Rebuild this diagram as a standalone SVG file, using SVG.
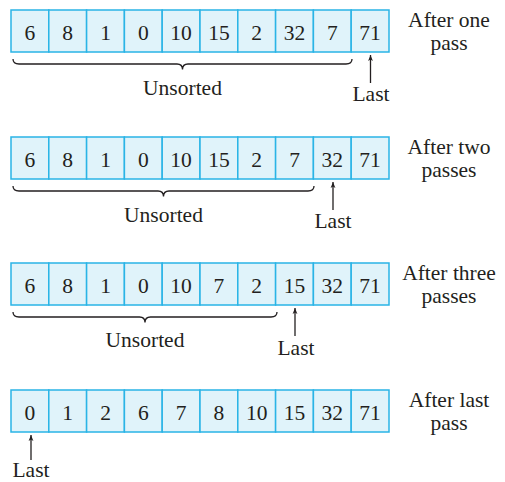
<svg xmlns="http://www.w3.org/2000/svg" width="505" height="482" viewBox="0 0 505 482">
<style>
.cell{fill:#e0f3fa;stroke:#2ab4e6;stroke-width:1.5}
.num{font-family:"Liberation Serif","Times New Roman","DejaVu Serif",serif;font-size:21.5px;fill:#231f20;text-anchor:middle}
.lbl{font-family:"Liberation Serif","Times New Roman","DejaVu Serif",serif;font-size:21.5px;fill:#231f20;text-anchor:middle}
.brace{fill:none;stroke:#231f20;stroke-width:1.3}
.arr{stroke:#231f20;stroke-width:1.3;marker-end:url(#ah)}
</style>
<defs>
<marker id="ah" viewBox="0 0 10 10" refX="10" refY="5" markerWidth="8" markerHeight="6" markerUnits="userSpaceOnUse" orient="auto">
<path d="M0,1 L10,5 L0,9 L2.5,5 Z" fill="#231f20"/>
</marker>
</defs>
<g id="pass1">
<rect class="cell" x="11" y="10" width="37.8" height="42"/><rect class="cell" x="48.8" y="10" width="37.8" height="42"/><rect class="cell" x="86.6" y="10" width="37.8" height="42"/><rect class="cell" x="124.4" y="10" width="37.8" height="42"/><rect class="cell" x="162.2" y="10" width="37.8" height="42"/><rect class="cell" x="200" y="10" width="37.8" height="42"/><rect class="cell" x="237.8" y="10" width="37.8" height="42"/><rect class="cell" x="275.6" y="10" width="37.8" height="42"/><rect class="cell" x="313.4" y="10" width="37.8" height="42"/><rect class="cell" x="351.2" y="10" width="37.8" height="42"/>
<text class="num" x="29.9" y="39.5">6</text><text class="num" x="67.7" y="39.5">8</text><text class="num" x="105.5" y="39.5">1</text><text class="num" x="143.3" y="39.5">0</text><text class="num" x="181.1" y="39.5">10</text><text class="num" x="218.9" y="39.5">15</text><text class="num" x="256.7" y="39.5">2</text><text class="num" x="294.5" y="39.5">32</text><text class="num" x="332.3" y="39.5">7</text><text class="num" x="370.1" y="39.5">71</text>
<text class="lbl" x="449" y="27">After one</text><text class="lbl" x="449" y="50">pass</text>
<text class="lbl" x="182.5" y="95">Unsorted</text>
<text class="lbl" x="371" y="101">Last</text>
</g>
<g id="pass2">
<rect class="cell" x="11" y="137" width="37.8" height="42"/><rect class="cell" x="48.8" y="137" width="37.8" height="42"/><rect class="cell" x="86.6" y="137" width="37.8" height="42"/><rect class="cell" x="124.4" y="137" width="37.8" height="42"/><rect class="cell" x="162.2" y="137" width="37.8" height="42"/><rect class="cell" x="200" y="137" width="37.8" height="42"/><rect class="cell" x="237.8" y="137" width="37.8" height="42"/><rect class="cell" x="275.6" y="137" width="37.8" height="42"/><rect class="cell" x="313.4" y="137" width="37.8" height="42"/><rect class="cell" x="351.2" y="137" width="37.8" height="42"/>
<text class="num" x="29.9" y="166.5">6</text><text class="num" x="67.7" y="166.5">8</text><text class="num" x="105.5" y="166.5">1</text><text class="num" x="143.3" y="166.5">0</text><text class="num" x="181.1" y="166.5">10</text><text class="num" x="218.9" y="166.5">15</text><text class="num" x="256.7" y="166.5">2</text><text class="num" x="294.5" y="166.5">7</text><text class="num" x="332.3" y="166.5">32</text><text class="num" x="370.1" y="166.5">71</text>
<text class="lbl" x="449" y="154">After two</text><text class="lbl" x="449" y="177">passes</text>
<text class="lbl" x="163.5" y="222">Unsorted</text>
<text class="lbl" x="333" y="228">Last</text>
</g>
<g id="pass3">
<rect class="cell" x="11" y="263" width="37.8" height="42"/><rect class="cell" x="48.8" y="263" width="37.8" height="42"/><rect class="cell" x="86.6" y="263" width="37.8" height="42"/><rect class="cell" x="124.4" y="263" width="37.8" height="42"/><rect class="cell" x="162.2" y="263" width="37.8" height="42"/><rect class="cell" x="200" y="263" width="37.8" height="42"/><rect class="cell" x="237.8" y="263" width="37.8" height="42"/><rect class="cell" x="275.6" y="263" width="37.8" height="42"/><rect class="cell" x="313.4" y="263" width="37.8" height="42"/><rect class="cell" x="351.2" y="263" width="37.8" height="42"/>
<text class="num" x="29.9" y="292.5">6</text><text class="num" x="67.7" y="292.5">8</text><text class="num" x="105.5" y="292.5">1</text><text class="num" x="143.3" y="292.5">0</text><text class="num" x="181.1" y="292.5">10</text><text class="num" x="218.9" y="292.5">7</text><text class="num" x="256.7" y="292.5">2</text><text class="num" x="294.5" y="292.5">15</text><text class="num" x="332.3" y="292.5">32</text><text class="num" x="370.1" y="292.5">71</text>
<text class="lbl" x="449" y="280">After three</text><text class="lbl" x="449" y="303">passes</text>
<text class="lbl" x="145" y="347">Unsorted</text>
<text class="lbl" x="296" y="355">Last</text>
</g>
<g id="passlast">
<rect class="cell" x="11" y="390" width="37.8" height="42"/><rect class="cell" x="48.8" y="390" width="37.8" height="42"/><rect class="cell" x="86.6" y="390" width="37.8" height="42"/><rect class="cell" x="124.4" y="390" width="37.8" height="42"/><rect class="cell" x="162.2" y="390" width="37.8" height="42"/><rect class="cell" x="200" y="390" width="37.8" height="42"/><rect class="cell" x="237.8" y="390" width="37.8" height="42"/><rect class="cell" x="275.6" y="390" width="37.8" height="42"/><rect class="cell" x="313.4" y="390" width="37.8" height="42"/><rect class="cell" x="351.2" y="390" width="37.8" height="42"/>
<text class="num" x="29.9" y="419.5">0</text><text class="num" x="67.7" y="419.5">1</text><text class="num" x="105.5" y="419.5">2</text><text class="num" x="143.3" y="419.5">6</text><text class="num" x="181.1" y="419.5">7</text><text class="num" x="218.9" y="419.5">8</text><text class="num" x="256.7" y="419.5">10</text><text class="num" x="294.5" y="419.5">15</text><text class="num" x="332.3" y="419.5">32</text><text class="num" x="370.1" y="419.5">71</text>
<text class="lbl" x="449" y="407">After last</text><text class="lbl" x="449" y="430">pass</text>
<text class="lbl" x="31" y="477">Last</text>
</g>
<g id="connectors">
<path class="brace" d="M13,59 Q13,64 19,64 L177,64 Q182.5,64 182.5,69.5 Q182.5,64 188,64 L346,64 Q352,64 352,59"/>
<path class="brace" d="M13,186 Q13,191 19,191 L158,191 Q163.5,191 163.5,196.5 Q163.5,191 169,191 L308,191 Q314,191 314,186"/>
<path class="brace" d="M13,312 Q13,317 19,317 L139.5,317 Q145,317 145,322.5 Q145,317 150.5,317 L271,317 Q277,317 277,312"/>
<line class="arr" x1="370.5" y1="83" x2="370.5" y2="55"/>
<line class="arr" x1="333" y1="210" x2="333" y2="182"/>
<line class="arr" x1="295" y1="336" x2="295" y2="308"/>
<line class="arr" x1="31" y1="460" x2="31" y2="435"/>
</g>
</svg>
